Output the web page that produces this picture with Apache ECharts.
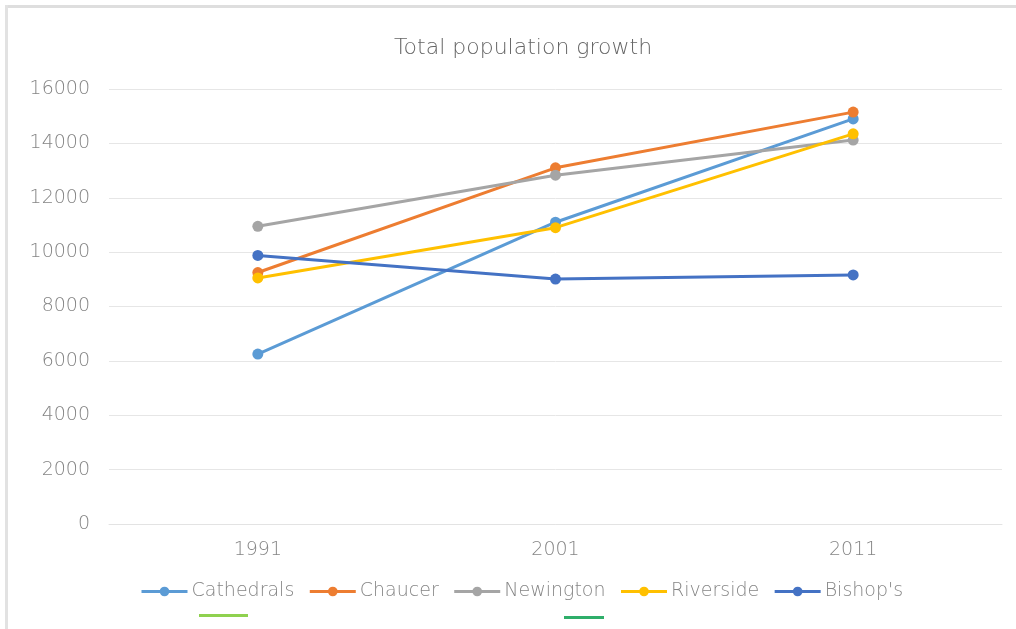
<!DOCTYPE html>
<html>
<head>
<meta charset="utf-8">
<title>Total population growth</title>
<script src="https://cdn.jsdelivr.net/npm/echarts@6/dist/echarts.min.js"></script>
<style>
  html, body { margin: 0; padding: 0; background: #ffffff; }
  #chart { width: 1016px; height: 629px; }
</style>
</head>
<body>
<div id="chart"></div>
<script>
// Census years on the category axis
const years = ['1991', '2001', '2011'];

// Population per area
const cathedrals = [6250, 11100, 14900];
const chaucer = [9250, 13100, 15150];
const newington = [10950, 12830, 14120];
const riverside = [9050, 10900, 14350];
const bishops = [9880, 9010, 9160];

const seriesNames = ['Cathedrals', 'Chaucer', 'Newington', 'Riverside', "Bishop's"];
const seriesColors = ['#5B9BD5', '#ED7D31', '#A5A5A5', '#FFC000', '#4472C4'];
const seriesValues = [cathedrals, chaucer, newington, riverside, bishops];

const FONT = "'DejaVu Sans', 'Open Sans', sans-serif";
const TEXT = '#858585';

const chart = echarts.init(document.getElementById('chart'), null, { renderer: 'canvas' });

chart.setOption({
  animation: false,
  backgroundColor: '#ffffff',
  color: seriesColors,
  title: {
    text: 'Total population growth',
    left: 518,
    textAlign: 'center',
    top: 32,
    textStyle: { fontFamily: FONT, fontWeight: 200, fontSize: 22, color: '#666666' }
  },
  legend: {
    left: 135,
    top: 577,
    itemWidth: 46,
    itemHeight: 12,
    itemGap: 14,
    lineStyle: { width: 3 },
    textStyle: { fontFamily: FONT, fontWeight: 200, fontSize: 19, color: TEXT, padding: [0, 0, 0, -1] },
    data: seriesNames
  },
  grid: { left: 109, right: 14, top: 89, bottom: 105, containLabel: false },
  xAxis: {
    type: 'category',
    data: years,
    boundaryGap: true,
    axisLine: { show: true, lineStyle: { color: '#e3e3e3', width: 1 } },
    axisTick: { show: false },
    axisLabel: { fontFamily: FONT, fontWeight: 200, fontSize: 19, color: TEXT, margin: 17 }
  },
  yAxis: {
    type: 'value',
    min: 0,
    max: 16000,
    interval: 2000,
    axisLine: { show: false },
    axisTick: { show: false },
    axisLabel: {
      fontFamily: FONT, fontWeight: 200, fontSize: 19, color: TEXT, margin: 19,
      formatter: (v) => String(v)
    },
    splitLine: { lineStyle: { color: '#e6e6e6', width: 1 } }
  },
  series: seriesNames.map((name, i) => ({
    name: name,
    type: 'line',
    data: seriesValues[i],
    symbol: 'circle',
    symbolSize: 11,
    lineStyle: { width: 3, color: seriesColors[i] },
    itemStyle: { color: seriesColors[i] },
    z: 2 + i
  })),
  graphic: [
    // outer frame edges (top and left)
    { type: 'rect', shape: { x: 6, y: 5, width: 1010, height: 3 }, style: { fill: '#dedede' }, silent: true },
    { type: 'rect', shape: { x: 5, y: 5, width: 3, height: 624 }, style: { fill: '#e2e2e2' }, silent: true },
    // short green marks under the legend
    { type: 'rect', shape: { x: 199, y: 614, width: 49, height: 3 }, style: { fill: '#8fd14f' }, silent: true },
    { type: 'rect', shape: { x: 564, y: 616, width: 40, height: 3 }, style: { fill: '#2fae6a' }, silent: true }
  ]
});
</script>
</body>
</html>
